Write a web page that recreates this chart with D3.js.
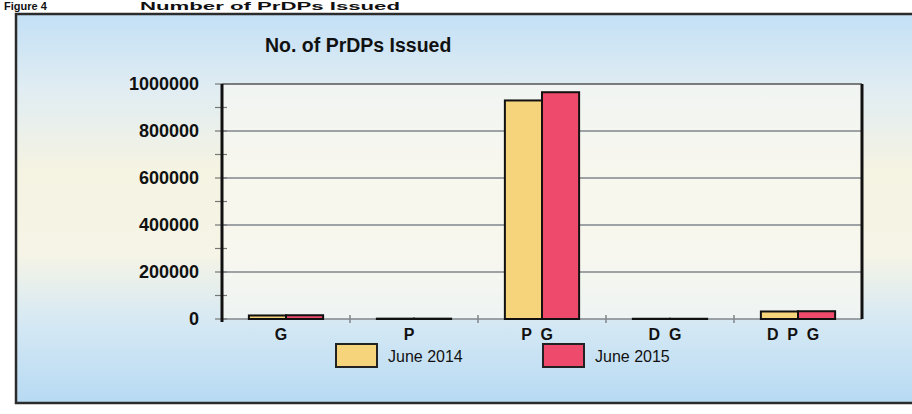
<!DOCTYPE html>
<html>
<head>
<meta charset="utf-8">
<script src="https://cdn.jsdelivr.net/npm/d3@7"></script>
<style>
  body { margin: 0; background: #fff; }
  svg { display: block; font-family: "Liberation Sans", Arial, sans-serif; }
</style>
</head>
<body>
<div id="chart"></div>
<script>
// data
var categories = ["G", "P", "P G", "D G", "D P G"]
var seriesNames = ["June 2014", "June 2015"]
var june2014 = [15000, 1500, 930000, 1000, 32000]
var june2015 = [16000, 1500, 965000, 1000, 33000]
var yTicks = [0, 200000, 400000, 600000, 800000, 1000000]
var seriesColors = ["#f6d47c", "#ee4b6c"]

var width = 912
var height = 414

var svg = d3.select("#chart")
    .append("svg")
    .attr("width", width)
    .attr("height", height)

// background gradient of the panel
var defs = svg.append("defs")
var grad = defs.append("linearGradient")
    .attr("id", "bg")
    .attr("x1", 0).attr("y1", 0).attr("x2", 0).attr("y2", 1)
var stops = [[0, "#c3e0f6"], [0.2, "#e1edf2"], [0.4, "#f5f3e2"], [0.62, "#f5f4e6"], [0.8, "#d4e8f4"], [1, "#b7daf3"]]
stops.forEach(function (s) {
    grad.append("stop").attr("offset", s[0]).attr("stop-color", s[1])
})

// caption above the panel (only a thin strip of it shows in the scan)
svg.append("text")
    .attr("x", 4).attr("y", 10)
    .attr("font-size", 11).attr("font-weight", "bold").attr("fill", "#111")
    .text("Figure 4")
svg.append("text")
    .attr("x", 140).attr("y", 10)
    .attr("font-size", 11).attr("font-weight", "bold").attr("fill", "#111")
    .attr("textLength", 260)
    .attr("lengthAdjust", "spacingAndGlyphs")
    .text("Number of PrDPs Issued")

svg.append("rect")
    .attr("x", 16).attr("y", 14)
    .attr("width", 910).attr("height", 389)
    .attr("fill", "url(#bg)")
    .attr("stroke", "#2b2b2b")
    .attr("stroke-width", 2.5)

var margin = { left: 222, right: 50, top: 84, bottom: 95 }
var plotW = width - margin.left - margin.right
var plotTop = margin.top
var plotBottom = height - margin.bottom

var x0 = d3.scaleBand()
    .domain(categories)
    .range([margin.left, margin.left + plotW])
    .paddingInner(0.42)
    .paddingOuter(0.21)

var x1 = d3.scaleBand()
    .domain(seriesNames)
    .range([0, x0.bandwidth()])

var y = d3.scaleLinear()
    .domain([0, 1000000])
    .range([plotBottom, plotTop])

var color = d3.scaleOrdinal(seriesNames, seriesColors)

// plot area
svg.append("rect")
    .attr("x", margin.left).attr("y", plotTop)
    .attr("width", plotW).attr("height", plotBottom - plotTop)
    .attr("fill", "#f8f8f2")
    .attr("opacity", 0.7)

// gridlines
svg.append("g")
    .selectAll("line")
    .data(yTicks.filter(function (d) { return d > 0 && d < 1000000 }))
    .enter()
    .append("line")
    .attr("x1", margin.left).attr("x2", margin.left + plotW)
    .attr("y1", function (d) { return y(d) }).attr("y2", function (d) { return y(d) })
    .attr("stroke", "#80868c")
    .attr("stroke-width", 1.3)

// top border of the plot
svg.append("line")
    .attr("x1", margin.left).attr("x2", margin.left + plotW)
    .attr("y1", y(1000000)).attr("y2", y(1000000))
    .attr("stroke", "#555")
    .attr("stroke-width", 1.5)

// baseline with category ticks
svg.append("line")
    .attr("x1", margin.left).attr("x2", margin.left + plotW)
    .attr("y1", y(0)).attr("y2", y(0))
    .attr("stroke", "#80868c")
    .attr("stroke-width", 1.5)

var step = x0.step()
svg.append("g")
    .selectAll("line")
    .data(categories.slice(1))
    .enter()
    .append("line")
    .attr("x1", function (d) { return x0(d) - step * 0.21 })
    .attr("x2", function (d) { return x0(d) - step * 0.21 })
    .attr("y1", y(0) - 4).attr("y2", y(0) + 4)
    .attr("stroke", "#80868c")
    .attr("stroke-width", 1.5)

// bars
var rows = categories.map(function (c, i) {
    return { cat: c, values: [june2014[i], june2015[i]] }
})

svg.append("g")
    .selectAll("g")
    .data(rows)
    .enter()
    .append("g")
    .attr("transform", function (d) { return "translate(" + x0(d.cat) + ",0)" })
    .selectAll("rect")
    .data(function (d) { return d.values.map(function (v, j) { return { key: seriesNames[j], value: v } }) })
    .enter()
    .append("rect")
    .attr("x", function (d) { return x1(d.key) })
    .attr("y", function (d) { return y(d.value) })
    .attr("width", x1.bandwidth())
    .attr("height", function (d) { return y(0) - y(d.value) })
    .attr("fill", function (d) { return color(d.key) })
    .attr("stroke", "#111")
    .attr("stroke-width", 2)

// y axis
var yAxis = d3.axisLeft(y)
    .tickValues(yTicks)
    .tickSize(0)
    .tickPadding(23)
    .tickFormat(d3.format("d"))

var ya = svg.append("g")
    .attr("transform", "translate(" + margin.left + ",0)")
    .call(yAxis)
ya.select(".domain").remove()
ya.selectAll("text")
    .attr("font-size", 18)
    .attr("font-weight", "bold")
    .attr("fill", "#111")
    .attr("font-family", "Liberation Sans, Arial, sans-serif")

// minor tick marks on the y axis
svg.append("g")
    .selectAll("line")
    .data(d3.range(0, 1000001, 100000))
    .enter()
    .append("line")
    .attr("x1", margin.left - 7).attr("x2", margin.left + 5)
    .attr("y1", function (d) { return y(d) }).attr("y2", function (d) { return y(d) })
    .attr("stroke", "#777")
    .attr("stroke-width", 1.2)

svg.append("line")
    .attr("x1", margin.left).attr("x2", margin.left)
    .attr("y1", y(1000000)).attr("y2", y(0) + 3)
    .attr("stroke", "#111")
    .attr("stroke-width", 3)

// right border
svg.append("line")
    .attr("x1", margin.left + plotW).attr("x2", margin.left + plotW)
    .attr("y1", y(1000000)).attr("y2", y(0))
    .attr("stroke", "#111")
    .attr("stroke-width", 3)

// category labels
svg.append("g")
    .selectAll("text")
    .data(categories)
    .enter()
    .append("text")
    .attr("x", function (d) { return x0(d) + x0.bandwidth() / 2 - 5 })
    .attr("y", 340)
    .attr("text-anchor", "middle")
    .attr("font-size", 16)
    .attr("font-weight", "bold")
    .attr("fill", "#111")
    .style("white-space", "pre")
    .text(function (d) { return d.split(" ").join("  ") })

// title
svg.append("text")
    .attr("x", 265).attr("y", 52)
    .attr("font-size", 19.5)
    .attr("font-weight", "bold")
    .attr("fill", "#111")
    .text("No. of PrDPs Issued")

// legend
var legendX = [336, 543]
var legend = svg.append("g")
    .selectAll("g")
    .data(seriesNames)
    .enter()
    .append("g")
    .attr("transform", function (d, i) { return "translate(" + legendX[i] + ",344)" })
legend.append("rect")
    .attr("width", 41).attr("height", 23)
    .attr("fill", function (d) { return color(d) })
    .attr("stroke", "#222")
    .attr("stroke-width", 2)
legend.append("text")
    .attr("x", 52).attr("y", 18)
    .attr("font-size", 16)
    .attr("fill", "#111")
    .text(function (d) { return d })
</script>
</body>
</html>
